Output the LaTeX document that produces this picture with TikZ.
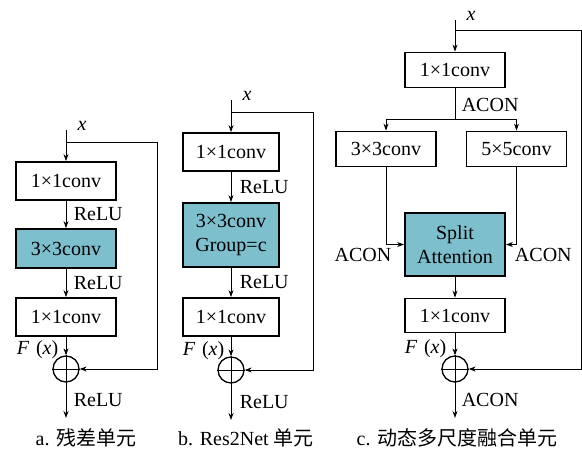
\documentclass[tikz,border=0pt]{standalone}
\usepackage{fontspec}
\setmainfont{Liberation Serif}
\newfontfamily\cjk{Noto Sans CJK SC}
\usepackage{xcolor}
\usetikzlibrary{arrows.meta, positioning}
\definecolor{convbg}{RGB}{125,191,204}

\begin{document}
\begin{tikzpicture}[x=1pt, y=-1pt,
    font=\fontsize{20}{24}\selectfont,
    box/.style={rectangle, draw, line width=1.8pt, minimum width=100pt, minimum height=38pt, align=center, inner sep=0pt},
    sumnode/.style={circle, draw, line width=1.3pt, minimum size=26pt, inner sep=0pt},
    arrow/.style={-{Stealth[length=7pt, width=5pt]}, line width=0.9pt},
    conn/.style={line width=0.9pt}
]
\useasboundingbox (0,0) rectangle (582,450);

% a. residual unit
\node[box] (a1) at (66,181) {1×1conv};
\node[box, fill=convbg, minimum height=39pt] (a2) at (66,248.5) {3×3conv};
\node[box] (a3) at (66,317) {1×1conv};
\node[sumnode] (aplus) at (66,369) {};
\coordinate (ain) at (66,130);
\coordinate (abr) at (66,142);
\coordinate (askip) at (157,142);
\coordinate (aout) at (66,418);
\node[right=8pt, yshift=4pt] (ax) at (ain) {\textit{x}};

\draw[arrow] (ain) -- (a1);
\draw[arrow] (a1) -- node[right=4pt] {ReLU} (a2);
\draw[arrow] (a2) -- node[right=4pt] {ReLU} (a3);
\draw[arrow] (a3) -- node[left=4pt, pos=0.7] {\textit{F}\,\,(\textit{x})} (aplus);
\draw[arrow] (abr) -- (askip) |- (aplus);
\draw[arrow] (aplus) -- node[right=4pt] {ReLU} (aout);
\draw[conn] (aplus.north) -- (aplus.south) (aplus.west) -- (aplus.east);
\node (acap) at (86,438) {a. {\cjk 残差单元}};

% b. Res2Net unit
\node[box, minimum width=96pt] (b1) at (231,152) {1×1conv};
\node[box, fill=convbg, minimum width=96pt, minimum height=64pt] (b2) at (231,235) {3×3conv\\Group=c};
\node[box, minimum width=96pt] (b3) at (231,317) {1×1conv};
\node[sumnode] (bplus) at (231,370) {};
\coordinate (bin) at (231,100);
\coordinate (bbr) at (231,112);
\coordinate (bskip) at (313,112);
\coordinate (bout) at (231,420);
\node[right=8pt, yshift=4pt] (bx) at (bin) {\textit{x}};

\draw[arrow] (bin) -- (b1);
\draw[arrow] (b1) -- node[right=5pt] {ReLU} (b2);
\draw[arrow] (b2) -- node[right=5pt] {ReLU} (b3);
\draw[arrow] (b3) -- node[left=3pt, pos=0.7] {\textit{F}\,\,(\textit{x})} (bplus);
\draw[arrow] (bbr) -- (bskip) |- (bplus);
\draw[arrow] (bplus) -- node[right=5pt] {ReLU} (bout);
\draw[conn] (bplus.north) -- (bplus.south) (bplus.west) -- (bplus.east);
\node (bcap) at (246,438) {b. Res2Net {\cjk 单元}};

% c. dynamic multi-scale fusion unit
\node[box, minimum height=35pt] (c1) at (455,70) {1×1conv};
\node[box, minimum height=35pt] (c33) at (386,149) {3×3conv};
\node[box, minimum height=35pt] (c55) at (516.5,149) {5×5conv};
\node[box, fill=convbg, minimum height=63pt] (csa) at (455,244.5) {Split\\Attention};
\node[box, minimum height=34pt] (c4) at (455,315.5) {1×1conv};
\node[sumnode] (cplus) at (455,369) {};
\coordinate (cin) at (455,20);
\coordinate (cbr) at (455,30);
\coordinate (cskip) at (581,30);
\coordinate (csplit) at (455,119);
\coordinate (cout) at (455,418);
\node[right=8pt, yshift=4pt] (cx) at (cin) {\textit{x}};

\draw[arrow] (cin) -- (c1);
\draw[conn] (c1) -- node[right=3pt, pos=0.55] {ACON} (csplit);
\draw[arrow] (csplit) -| (c33);
\draw[arrow] (csplit) -| (c55);
\draw[arrow] (c33) |- node[pos=0.75, below left] {ACON} (csa);
\draw[arrow] (c55) |- node[pos=0.75, below right] {ACON} (csa);
\draw[arrow] (csa) -- (c4);
\draw[arrow] (c4) -- node[left=5pt, pos=0.7] {\textit{F}\,\,(\textit{x})} (cplus);
\draw[arrow] (cbr) -- (cskip) |- (cplus);
\draw[arrow] (cplus) -- node[right=3pt] {ACON} (cout);
\draw[conn] (cplus.north) -- (cplus.south) (cplus.west) -- (cplus.east);
\node (ccap) at (457,438) {c. {\cjk 动态多尺度融合单元}};

\end{tikzpicture}
\end{document}
